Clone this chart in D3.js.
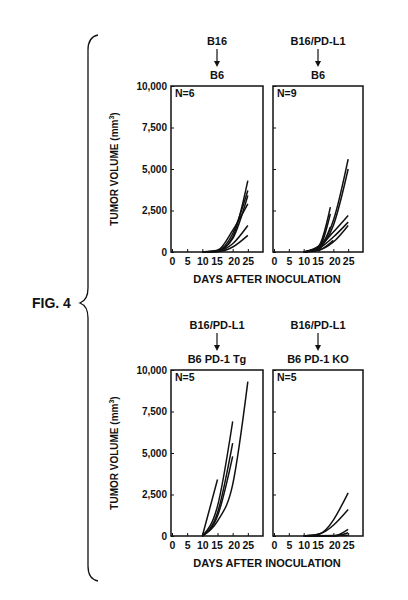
<!DOCTYPE html><html><head><script src="https://cdn.jsdelivr.net/npm/d3@7"></script>
<style>body{margin:0;background:#fff}text{font-family:"Liberation Sans",Arial,sans-serif;font-weight:bold;fill:#111}</style></head><body>
<svg id="c" width="408" height="600"></svg>
<script>
const xTicks=[0,5,10,15,20,25];
const yTicks=[0,2500,5000,7500,10000];
const panelTitles=[["B16","B6"],["B16/PD-L1","B6"],["B16/PD-L1","B6  PD-1  Tg"],["B16/PD-L1","B6  PD-1  KO"]];
const panelN=["N=6","N=9","N=5","N=5"];
// each series: [day, volume] pairs
const tl=[[[10,0],[15,60],[20,900],[25,4300]],[[10,0],[15,80],[20,1100],[25,3700]],[[10,0],[15,50],[20,800],[25,3400]],[[10,0],[15,100],[20,1300],[25,2900]],[[10,0],[15,40],[20,500],[25,1600]],[[10,0],[15,20],[20,300],[25,1000]]];
const tr=[[[10,0],[15,300],[20,1900],[25,5600]],[[10,0],[15,250],[20,1600],[25,5000]],[[10,0],[15,300],[20,1200],[25,2200]],[[10,0],[15,200],[20,900],[25,1800]],[[10,0],[15,100],[20,600],[25,1600]],[[10,0],[15,350],[19,2700]],[[10,0],[15,250],[19,2300]],[[10,0],[15,150],[19,1500]],[[10,0],[15,100],[20,700]]];
const bl=[[[10,0],[15,3400]],[[10,0],[15,1800],[20,6900]],[[10,0],[15,1400],[20,5600]],[[10,0],[15,1200],[20,4800]],[[10,0],[15,900],[20,3100],[25,9300]]];
const br=[[[10,0],[15,100],[25,2600]],[[10,0],[15,100],[25,1600]],[[10,0],[20,0],[25,400]],[[10,0],[20,0],[25,200]],[[10,0],[25,50]]];
const data=[tl,tr,bl,br];
const svg=d3.select("#c");
const panels=[{x0:171,x1:263,y0:86,y1:252},{x0:273,x1:363,y0:86,y1:252},{x0:171,x1:263,y0:370,y1:536},{x0:273,x1:363,y0:370,y1:536}];
panels.forEach((p,i)=>{
  const x=d3.scaleLinear().domain([0,30]).range([p.x0+1,p.x1]);
  const y=d3.scaleLinear().domain([0,10000]).range([p.y1,p.y0]);
  const g=svg.append("g");
  g.append("rect").attr("x",p.x0).attr("y",p.y0).attr("width",p.x1-p.x0).attr("height",p.y1-p.y0).attr("fill","none").attr("stroke","#111").attr("stroke-width",1.5);
  const ax=g.append("g").attr("transform",`translate(0,${p.y1})`).call(d3.axisBottom(x).tickValues(xTicks).tickSize(-3).tickPadding(6));
  ax.select(".domain").remove();ax.selectAll("text").attr("font-size",10.5).attr("dx",d=>d>=10?(d===15?-1:d===20?1:0):0);
  const ay=g.append("g").attr("transform",`translate(${p.x0},0)`).call(d3.axisLeft(y).tickValues(yTicks).tickSize(-3).tickPadding(4));
  ay.select(".domain").remove();
  if(i%2===1) ay.selectAll("text").remove(); else ay.selectAll("text").attr("font-size",10);
  g.selectAll("line").attr("stroke","#111");
  const line=d3.line().x(d=>x(d[0])).y(d=>y(d[1])).curve(d3.curveMonotoneX);
  g.selectAll("path.s").data(data[i]).join("path").attr("class","s").attr("d",line).attr("fill","none").attr("stroke","#111").attr("stroke-width",1.5);
  g.append("text").attr("x",p.x0+4).attr("y",p.y0+11).attr("font-size",10.5).text(panelN[i]);
  const cx=(p.x0+p.x1)/2;
  g.append("text").attr("x",cx).attr("y",p.y0-41).attr("text-anchor","middle").attr("font-size",11).text(panelTitles[i][0]);
  g.append("line").attr("x1",cx).attr("x2",cx).attr("y1",p.y0-37).attr("y2",p.y0-22).attr("stroke","#111").attr("stroke-width",1.2);
  g.append("path").attr("d",`M${cx-3},${p.y0-25}L${cx+3},${p.y0-25}L${cx},${p.y0-19}Z`).attr("fill","#111");
  g.append("text").attr("x",cx).attr("y",p.y0-7).attr("text-anchor","middle").attr("font-size",11).text(panelTitles[i][1]);
  if(i%2===0){
    g.append("text").attr("transform",`translate(118,${(p.y0+p.y1)/2}) rotate(-90)`).attr("text-anchor","middle").attr("font-size",10).html('TUMOR VOLUME (mm<tspan dy="-4" font-size="7">3</tspan><tspan dy="4">)</tspan>');
    g.append("text").attr("x",267).attr("y",p.y1+31).attr("text-anchor","middle").attr("font-size",11).text("DAYS AFTER  INOCULATION");
  }
});
svg.append("path").attr("d","M98,35 Q88,37 88,50 L88,288 Q88,300 80,303 Q88,306 88,318 L88,566 Q88,579 98,581").attr("fill","none").attr("stroke","#111").attr("stroke-width",1.3);
svg.append("text").attr("x",32).attr("y",308).attr("font-size",14).text("FIG. 4");
</script></body></html>
